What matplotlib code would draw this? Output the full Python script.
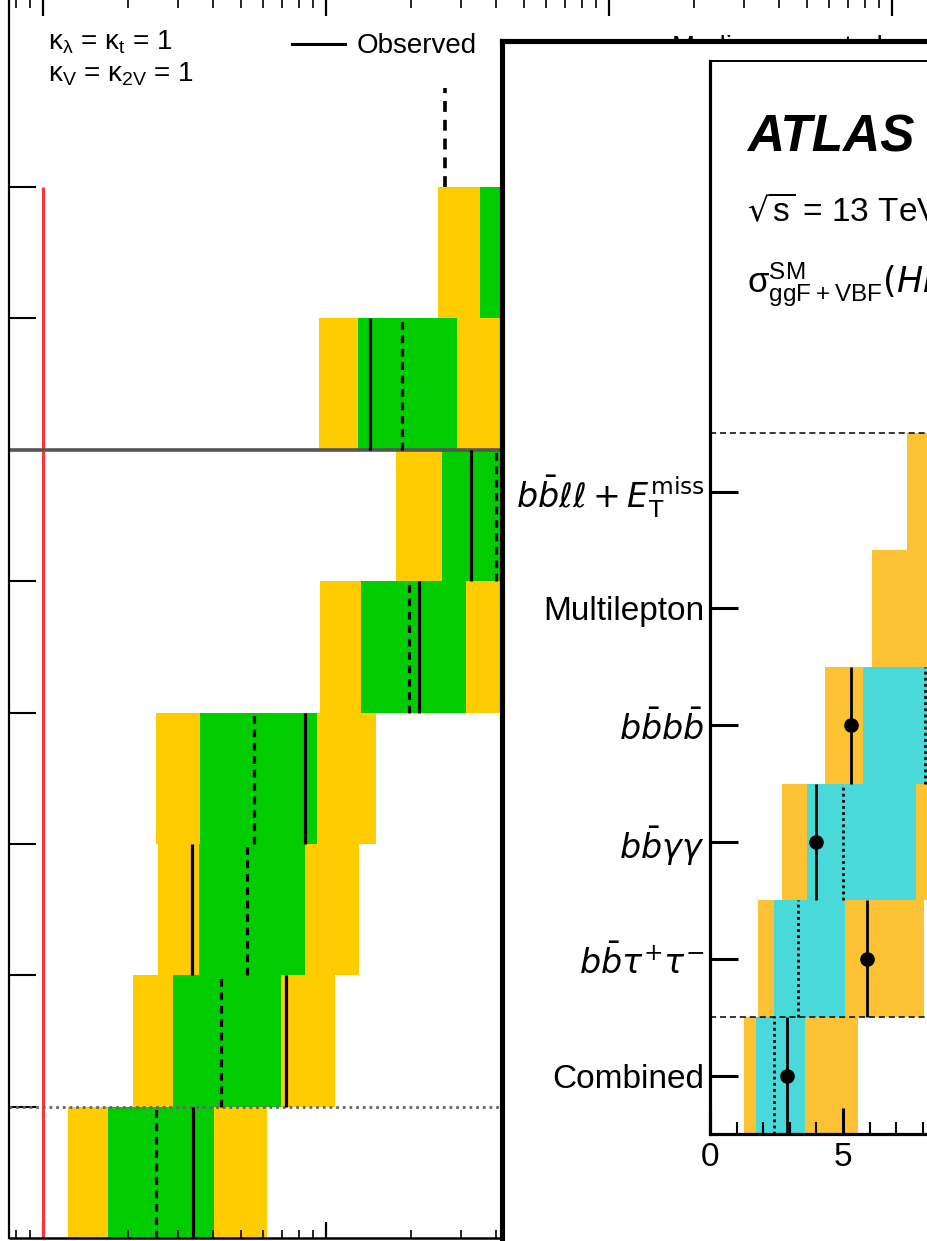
import matplotlib
matplotlib.use("Agg")
import matplotlib.pyplot as plt
import matplotlib.transforms as mtransforms
from matplotlib.lines import Line2D
from matplotlib.ticker import LogLocator, MultipleLocator, NullFormatter, FixedLocator

plt.rcParams['font.family'] = ['Liberation Sans', 'DejaVu Sans']
plt.rcParams['mathtext.fontset'] = 'dejavusans'

W, H = 928, 1241

# ---------------- background limit chart (log x), rows from bottom to top
bg_obs = [3.39, 7.22, 3.36, 8.43, 21.3, 32.5, 14.3, 45.0]
bg_exp = [2.51, 4.26, 5.26, 5.57, 19.6, 39.9, 18.6, 50.0]
bg_1s_lo = [1.70, 2.88, 3.56, 3.59, 13.3, 25.7, 12.97, 35.0]
bg_1s_hi = [4.02, 6.93, 8.43, 9.29, 31.2, 67.0, 29.0, 93.0]
bg_2s_lo = [1.23, 2.08, 2.55, 2.51, 9.52, 17.7, 9.45, 24.9]
bg_2s_hi = [6.19, 10.8, 13.1, 15.0, 52.6, 129.0, 48.5, 178.0]
bg_top_exp = 26.3
sm_value = 1.0

# ---------------- HH limits by channel
channels = ["Combined",
            r"$b\bar{b}\tau^{+}\tau^{-}$",
            r"$b\bar{b}\gamma\gamma$",
            r"$b\bar{b}b\bar{b}$",
            "Multilepton",
            r"$b\bar{b}\ell\ell + E_{\mathrm{T}}^{\mathrm{miss}}$"]
hh_obs = [2.9, 5.9, 4.0, 5.3, 17.0, 9.7]
hh_exp = [2.4, 3.3, 5.0, 8.1, 11.0, 16.0]
hh_1s_lo = [1.73, 2.41, 3.65, 5.75, 8.2, 11.5]
hh_1s_hi = [3.57, 5.08, 7.74, 11.7, 15.5, 23.0]
hh_2s_lo = [1.28, 1.80, 2.71, 4.32, 6.1, 7.4]
hh_2s_hi = [5.56, 8.05, 10.9, 15.9, 22.0, 33.0]

GREEN, YELLOW, RED = "#00cc00", "#ffcc00", "#ff3535"
CYAN, ORANGE = "#4ad9d9", "#fcc234"

fig = plt.figure(figsize=(W / 100, H / 100), dpi=100)
fig.patch.set_facecolor("white")
# pixel coordinates measured from the top-left corner
to_px = mtransforms.Affine2D().scale(1 / W, -1 / H).translate(0, 1) + fig.transFigure


def box(x0, y0, x1, y1):
    return [x0 / W, 1 - y1 / H, (x1 - x0) / W, (y1 - y0) / H]


# ================= background chart =================
left_px, right_px, bottom_px = 9.5, 1130, 1238
one_px, decade_px, row_px = 43.0, 283.0, 131.375
ax = fig.add_axes(box(left_px, 0, right_px, bottom_px))
ax.set_xscale("log")
ax.set_xlim(10 ** ((left_px - one_px) / decade_px), 10 ** ((right_px - one_px) / decade_px))
ax.set_ylim(0, bottom_px / row_px)

n = len(bg_obs)
rows = list(range(n))
ax.barh([r + 0.5 for r in rows], [h - l for l, h in zip(bg_2s_lo, bg_2s_hi)], left=bg_2s_lo,
        height=1.0, color=YELLOW, lw=0, zorder=1)
ax.barh([r + 0.5 for r in rows], [h - l for l, h in zip(bg_1s_lo, bg_1s_hi)], left=bg_1s_lo,
        height=1.0, color=GREEN, lw=0, zorder=1.1)
ax.vlines(bg_exp, rows, [r + 1 for r in rows], colors="k", lw=2.3, linestyles=(0, (2.4, 1.8)), zorder=3)
ax.vlines(bg_obs, rows, [r + 1 for r in rows], colors="k", lw=2.3, zorder=3)
ax.vlines(bg_top_exp, n, n + 0.75, colors="k", lw=2.6, linestyles=(0, (3.0, 2.2)), zorder=3)
ax.vlines(sm_value, 0, n, colors=RED, lw=2.2, zorder=2)
ax.axhline(6, color="#555555", lw=2.6, zorder=2)
ax.axhline(1, color="#666666", lw=2.0, ls=(0, (1, 1.4)), zorder=2)

for side in ("top", "right"):
    ax.spines[side].set_visible(False)
ax.spines["left"].set_linewidth(1.6)
ax.spines["bottom"].set_linewidth(1.8)
ax.xaxis.set_major_locator(LogLocator(base=10, numticks=20))
ax.xaxis.set_minor_locator(LogLocator(base=10, subs=range(2, 10), numticks=50))
ax.xaxis.set_major_formatter(NullFormatter())
ax.xaxis.set_minor_formatter(NullFormatter())
ax.tick_params(axis="x", which="major", direction="in", top=True, bottom=True, length=11.5, width=1.6)
ax.tick_params(axis="x", which="minor", direction="in", top=True, bottom=True, length=5.8, width=1.2)
ax.yaxis.set_major_locator(FixedLocator(range(1, n + 1)))
ax.yaxis.set_major_formatter(NullFormatter())
ax.tick_params(axis="y", which="major", direction="in", left=True, right=False, length=19.5, width=1.5)

ax.text(48, 50, r"$\mathregular{\kappa_{\lambda}}$ = $\mathregular{\kappa_{t}}$ = 1",
        transform=to_px, fontsize=20, va="baseline")
ax.text(48, 81, r"$\mathregular{\kappa_{V}}$ = $\mathregular{\kappa_{2V}}$ = 1",
        transform=to_px, fontsize=20, va="baseline")
ax.add_line(Line2D([292, 345], [44, 44], transform=to_px, color="k", lw=2.2, clip_on=False))
ax.text(357, 53, "Observed", transform=to_px, fontsize=20, va="baseline")
ax.add_line(Line2D([607, 660], [46, 46], transform=to_px, color="k", lw=2.2, ls="--", clip_on=False))
ax.text(672, 55, "Median expected", transform=to_px, fontsize=20, va="baseline")

# ================= inset panel =================
frame = fig.add_axes(box(502.5, 40.5, 1600, 1600))
frame.set_facecolor("white")
frame.set_xticks([])
frame.set_yticks([])
for s in frame.spines.values():
    s.set_linewidth(3.7)

ax2 = fig.add_axes(box(710, 61, 1375, 1134))
ax2.set_xlim(0, 25)
ax2.set_ylim(-0.5, -0.5 + (1134 - 61) / 116.8)
m = len(channels)
ys = list(range(m))
ax2.barh(ys, [h - l for l, h in zip(hh_2s_lo, hh_2s_hi)], left=hh_2s_lo, height=1.0,
         color=ORANGE, lw=0, zorder=1)
ax2.barh(ys, [h - l for l, h in zip(hh_1s_lo, hh_1s_hi)], left=hh_1s_lo, height=1.0,
         color=CYAN, lw=0, zorder=1.1)
ax2.vlines(hh_exp, [y - 0.5 for y in ys], [y + 0.5 for y in ys], colors="k", lw=2.0,
           linestyles=(0, (1, 1.2)), zorder=3)
ax2.vlines(hh_obs, [y - 0.5 for y in ys], [y + 0.5 for y in ys], colors="k", lw=2.0, zorder=3)
ax2.plot(hh_obs, ys, "o", color="k", ms=9.5, zorder=4, clip_on=True)
ax2.axhline(0.5, color="k", lw=1.1, ls=(0, (4, 2.5)), zorder=2)
ax2.axhline(m - 0.5, color="k", lw=1.1, ls=(0, (4, 2.5)), zorder=2)

ax2.spines["left"].set_linewidth(2.3)
ax2.spines["bottom"].set_linewidth(2.3)
ax2.spines["top"].set_linewidth(1.4)
ax2.xaxis.set_major_locator(MultipleLocator(5))
ax2.xaxis.set_minor_locator(MultipleLocator(1))
ax2.tick_params(axis="x", which="major", direction="in", length=18.7, width=2.2, labelsize=24, pad=6, top=False)
ax2.tick_params(axis="x", which="minor", direction="in", length=8.6, width=1.5, top=False)
ax2.set_yticks(ys)
ax2.set_yticklabels(channels)
ax2.tick_params(axis="y", direction="in", length=20, width=2.2, labelsize=24, pad=4, right=False)

ax2.text(747, 152, "ATLAS", transform=to_px, fontsize=37, fontweight="bold", fontstyle="italic", va="baseline")
ax2.text(747, 222, r"$\sqrt{\mathregular{s}}$ = 13 TeV, 126 - 140 fb$^{-1}$", transform=to_px,
         fontsize=24, va="baseline")
ax2.text(747, 293, r"$\mathregular{\sigma^{SM}_{ggF+VBF}}(HH)$ = 32.78 fb", transform=to_px,
         fontsize=25, va="baseline")

fig.savefig("out.png", dpi=100)
